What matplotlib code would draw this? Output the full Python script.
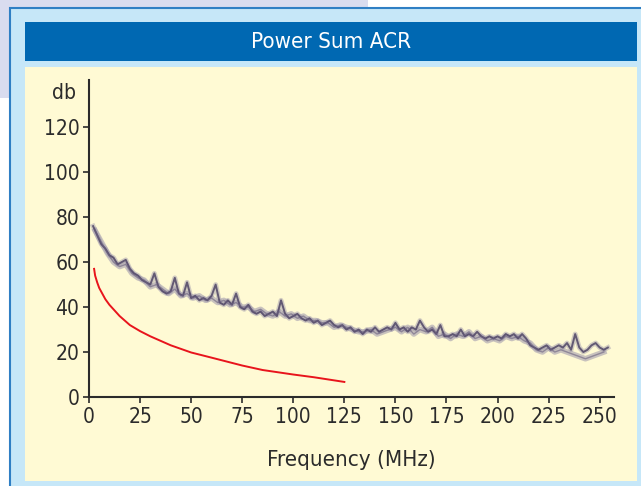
import numpy as np
import matplotlib
matplotlib.use("Agg")
import matplotlib.pyplot as plt
from matplotlib.patches import Rectangle

W, H = 641, 486
plt.rcParams['font.family'] = ['Liberation Sans Narrow', 'DejaVu Sans']
plt.rcParams['font.stretch'] = 'condensed'

# measured pair, dark trace (2 MHz steps)
freq_a = list(range(2, 256, 2))
acr_a = [76, 72, 68, 66, 63, 62, 59, 60, 61, 57,
         55, 54, 52, 51, 50, 55, 49, 47, 46, 47,
         53, 46, 45, 51, 44, 45, 43, 44, 43, 45,
         50, 42, 41, 43, 41, 46, 40, 39, 41, 38,
         37, 38, 36, 37, 38, 36, 43, 37, 35, 36,
         37, 35, 34, 35, 33, 34, 32, 33, 34, 32,
         31, 32, 30, 31, 29, 30, 28, 30, 29, 31,
         29, 30, 31, 30, 33, 30, 31, 29, 31, 30,
         34, 31, 29, 30, 28, 32, 27, 27, 28, 27,
         30, 27, 28, 27, 29, 27, 26, 27, 26, 27,
         26, 28, 27, 28, 26, 28, 26, 23, 22, 21,
         22, 23, 21, 22, 23, 22, 24, 21, 28, 22,
         20, 21, 23, 24, 22, 21, 22]

# second pair, lighter trace (3 MHz steps)
freq_b = list(range(3, 253, 3))
acr_b = [74, 69, 64, 60, 58, 59, 55, 53, 52, 49,
         50, 48, 46, 48, 45, 46, 44, 45, 43, 44,
         42, 43, 41, 42, 40, 40, 38, 39, 37, 36,
         38, 36, 37, 35, 36, 34, 34, 33, 33, 31,
         32, 31, 30, 29, 29, 30, 28, 29, 30, 31,
         29, 31, 28, 30, 29, 31, 27, 28, 26, 28,
         27, 29, 26, 27, 25, 26, 25, 27, 26, 27,
         25, 24, 21, 20, 22, 20, 21, 20, 19, 18,
         17, 18, 19, 20]

# limit line
freq_lim = [2.5, 3, 4, 5, 6.5, 8, 10, 12.5, 15, 20, 25, 30, 40, 50, 60, 75, 85, 100, 110, 125]
acr_lim = [57, 54, 51, 48.5, 46, 43.5, 41, 38.5, 36, 32, 29.3, 27, 23, 19.8, 17.5, 14, 12, 10, 8.8, 6.7]

x_ticks = [0, 25, 50, 75, 100, 125, 150, 175, 200, 225, 250]
y_ticks = [0, 20, 40, 60, 80, 100, 120]


def px_rect(x0, y0, x1, y1, **kw):
    return Rectangle((x0 / W, 1 - y1 / H), (x1 - x0) / W, (y1 - y0) / H,
                     transform=fig.transFigure, zorder=-5, **kw)


fig = plt.figure(figsize=(W / 100, H / 100), dpi=100)
fig.patch.set_facecolor('white')
fig.patches.append(px_rect(0, 0, 368, 98, facecolor='#d9dcef', lw=0))
fig.patches.append(px_rect(10, 8, W + 5, H + 5, facecolor='#c6e7f8', edgecolor='#2f7fc4', lw=1.5))
fig.patches.append(px_rect(25, 22, 637, 61, facecolor='#0068b2', lw=0))
fig.patches.append(px_rect(25, 67, 637, 481, facecolor='#fffad4', lw=0))

fig.text(331 / W, 1 - 42 / H, 'Power Sum ACR', color='white', fontsize=16,
         fontweight='medium', ha='center', va='center')

ax = fig.add_axes([89 / W, 1 - 397 / H, (614 - 89) / W, (397 - 80) / H])
ax.set_facecolor('none')
ax.plot(freq_b, acr_b, color='#9c95ab', lw=4, alpha=0.55, solid_joinstyle='round')
ax.plot(freq_a, acr_a, color='#9a93a8', lw=3.5, alpha=0.45, solid_joinstyle='round')
ax.plot(freq_a, acr_a, color='#4f4566', lw=1.4, alpha=0.85)
ax.plot(freq_b, acr_b, color='#6a6080', lw=1.0, alpha=0.6)
ax.plot(freq_lim, acr_lim, color='#e8141c', lw=1.4)

ax.set_xlim(0, 257)
ax.set_ylim(0, 141)
ax.set_xticks(x_ticks)
ax.set_yticks(y_ticks)
for s in ['top', 'right']:
    ax.spines[s].set_visible(False)
for s in ['left', 'bottom']:
    ax.spines[s].set_color('#2b2b2b')
    ax.spines[s].set_linewidth(1.5)
ax.tick_params(colors='#2b2b2b', labelsize=15, length=4, width=1.2, pad=3)
ax.set_xlabel('Frequency (MHz)', fontsize=16, color='#2b2b2b', labelpad=17)

fig.text(76 / W, 1 - 93 / H, 'db', fontsize=15, color='#2b2b2b', ha='right', va='center')

fig.savefig('out.png', dpi=100)
